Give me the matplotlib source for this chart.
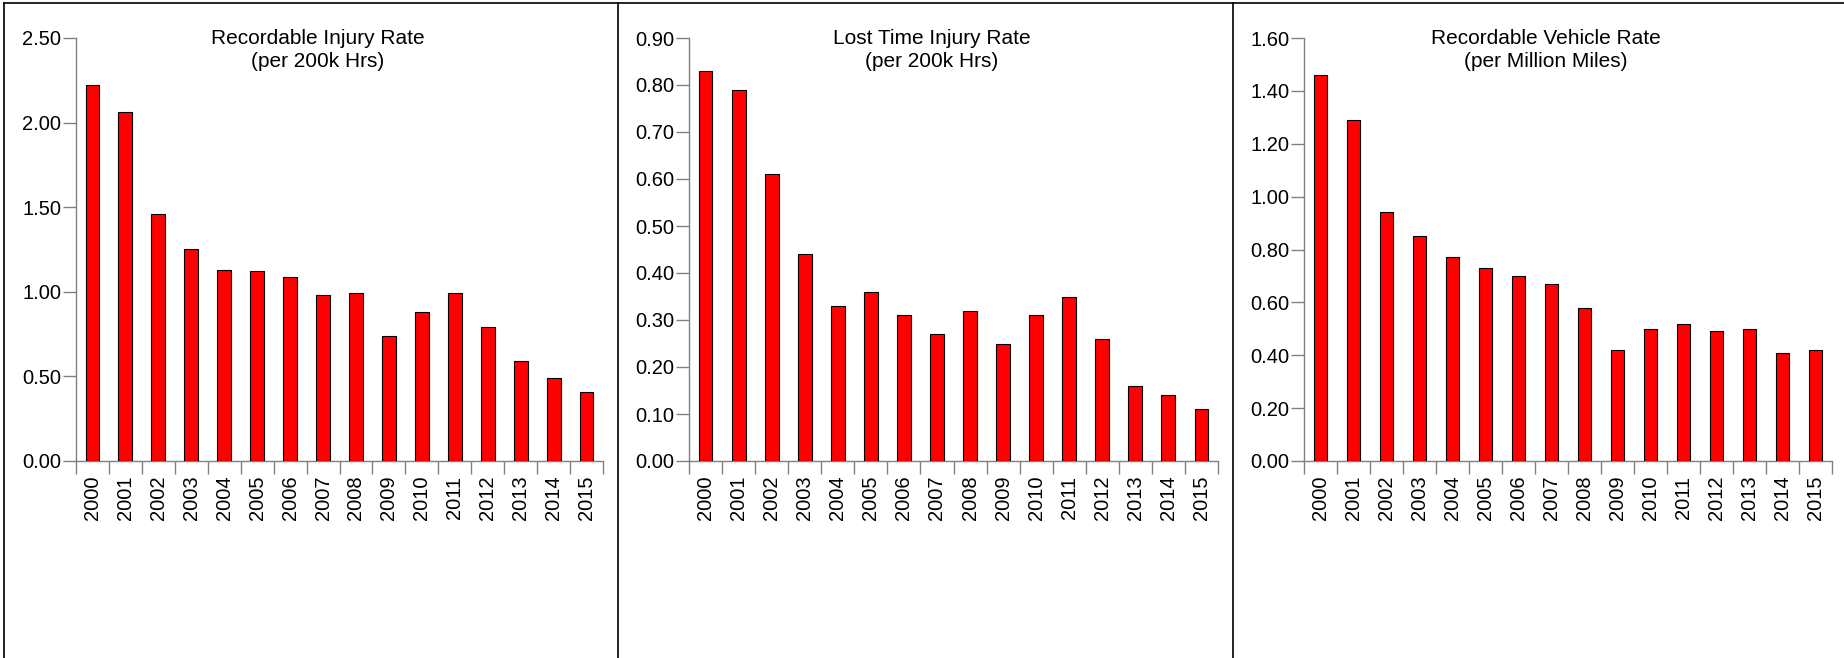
#!/usr/bin/env python3
"""Safety rates 2000-2015: three bar panels side by side."""

import matplotlib

matplotlib.use("Agg")
import matplotlib.pyplot as plt
from matplotlib.lines import Line2D
from matplotlib.ticker import FixedLocator, FormatStrFormatter

YEARS = [str(y) for y in range(2000, 2016)]

RECORDABLE_INJURY = [2.22, 2.06, 1.46, 1.25, 1.13, 1.12, 1.09, 0.98,
                     0.99, 0.74, 0.88, 0.99, 0.79, 0.59, 0.49, 0.41]
LOST_TIME_INJURY = [0.83, 0.79, 0.61, 0.44, 0.33, 0.36, 0.31, 0.27,
                    0.32, 0.25, 0.31, 0.35, 0.26, 0.16, 0.14, 0.11]
RECORDABLE_VEHICLE = [1.46, 1.29, 0.94, 0.85, 0.77, 0.73, 0.70, 0.67,
                      0.58, 0.42, 0.50, 0.52, 0.49, 0.50, 0.41, 0.42]

TITLES = [
    ("Recordable Injury Rate", "(per 200k Hrs)"),
    ("Lost Time Injury Rate", "(per 200k Hrs)"),
    ("Recordable Vehicle Rate", "(per Million Miles)"),
]
Y_MAX = [2.5, 0.9, 1.6]
Y_STEP = [0.5, 0.1, 0.2]

W, H = 1844, 658
AXIS_GREY = "#808080"
FONT = ["Liberation Sans", "DejaVu Sans"]


def px_x(x):
    return x / W


def px_y(y):
    return 1 - y / H


def draw_panel(fig, left_px, right_px, values, title, ymax, ystep, center_px):
    ax = fig.add_axes([px_x(left_px), px_y(461), px_x(right_px - left_px), (461 - 38) / H])
    pos = list(range(len(YEARS)))
    ax.bar(pos, values, width=0.42, color="#ff0000", edgecolor="black", linewidth=0.8, zorder=3)

    ax.set_xlim(-0.5, len(YEARS) - 0.5)
    ax.set_ylim(0, ymax)
    n = int(round(ymax / ystep))
    ax.yaxis.set_major_locator(FixedLocator([i * ystep for i in range(n + 1)]))
    ax.yaxis.set_major_formatter(FormatStrFormatter("%.2f"))

    # labels centred on bars, tick marks on category boundaries
    ax.set_xticks(pos)
    ax.set_xticklabels(YEARS, rotation=90, fontsize=14.5, family=FONT)
    ax.xaxis.set_minor_locator(FixedLocator([p - 0.5 for p in range(len(YEARS) + 1)]))
    ax.tick_params(axis="x", which="major", length=0, pad=10.5)
    ax.tick_params(axis="x", which="minor", length=9.5, width=1.0, color=AXIS_GREY, direction="out")
    ax.tick_params(axis="y", length=9.5, width=1.0, color=AXIS_GREY, pad=1, labelsize=14.5)
    for lab in ax.get_yticklabels():
        lab.set_family(FONT)

    for side in ("top", "right"):
        ax.spines[side].set_visible(False)
    for side in ("left", "bottom"):
        ax.spines[side].set_color(AXIS_GREY)
        ax.spines[side].set_linewidth(1.0)

    fig.text(px_x(center_px), px_y(44), title[0], ha="center", va="baseline",
             fontsize=15, family=FONT)
    fig.text(px_x(center_px), px_y(67), title[1], ha="center", va="baseline",
             fontsize=15, family=FONT)
    return ax


def main() -> None:
    fig = plt.figure(figsize=(W / 100, H / 100), dpi=100)
    fig.patch.set_facecolor("white")

    panels = [
        (76, 603, RECORDABLE_INJURY, 318),
        (689, 1218, LOST_TIME_INJURY, 932),
        (1304, 1832, RECORDABLE_VEHICLE, 1546),
    ]
    for i, (l, r, vals, c) in enumerate(panels):
        draw_panel(fig, l, r, vals, TITLES[i], Y_MAX[i], Y_STEP[i], c)

    # panel frames
    border = dict(color="black", linewidth=1.2, transform=fig.transFigure)
    fig.add_artist(Line2D([px_x(4), 1], [px_y(3), px_y(3)], **border))
    for x in (4, 618, 1233):
        fig.add_artist(Line2D([px_x(x), px_x(x)], [0, px_y(3)], **border))

    fig.savefig("out.png", dpi=100)
    plt.close(fig)


if __name__ == "__main__":
    main()
